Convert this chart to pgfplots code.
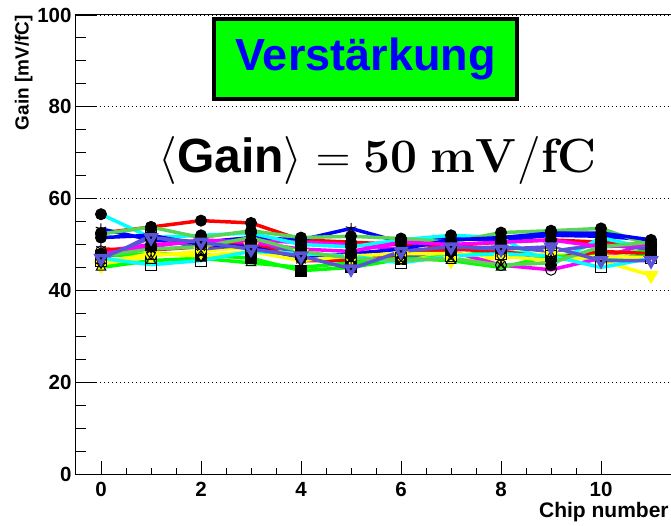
\RequirePackage{fix-cm}
\documentclass[border=0pt]{standalone}
\usepackage[no-math]{fontspec}
\setmainfont{Liberation Sans}
\usepackage{pgfplots}
\pgfplotsset{compat=1.18}
\definecolor{rgreen}{RGB}{0,255,0}
\definecolor{rblue}{RGB}{0,0,255}
\definecolor{rred}{RGB}{255,0,0}
\definecolor{ryellow}{RGB}{255,255,0}
\definecolor{rmag}{RGB}{255,0,255}
\definecolor{rcyan}{RGB}{0,255,255}
\definecolor{rlgreen}{RGB}{89,212,84}
\definecolor{rpurple}{RGB}{89,84,216}
\pgfplotsset{ser/.style 2 args={color=#1, line width=3.5pt, mark=#2, mark size=5.5pt,
  mark options={draw=black, fill=black, line width=1pt, solid}}}
\begin{document}
\begin{tikzpicture}
\begin{axis}[
  at={(0pt,0pt)}, anchor=south west,
  scale only axis, width=600pt, height=459pt,
  xmin=-0.5, xmax=11.5, ymin=0, ymax=100,
  xtick={0,2,...,10}, ytick={0,20,...,100},
  minor x tick num=3, minor y tick num=3,
  xtick pos=bottom, ytick pos=left, tick align=inside,
  xtick style={black, line width=0.9pt, /pgfplots/major tick length=13pt, /pgfplots/minor tick length=6.5pt},
  ytick style={black, line width=0.9pt, /pgfplots/major tick length=20pt, /pgfplots/minor tick length=10pt},
  axis line style={line width=1pt},
  ymajorgrids, major grid style={black, line width=0.8pt, dash pattern=on 1pt off 3pt},
  /pgf/number format/assume math mode=true,
  ticklabel style={font=\fontsize{20.5}{22}\selectfont\bfseries},
  xticklabel style={yshift=-5pt},
  yticklabel style={xshift=-1pt},
  ylabel={Gain [mV/fC]}, xlabel={Chip number},
  label style={inner sep=0pt},
  ylabel style={font=\fontsize{19}{20}\selectfont\bfseries, at={(rel axis cs:-0.072,1)}, anchor=south east},
  xlabel style={font=\fontsize{21}{22}\selectfont\bfseries, at={(rel axis cs:0.988,-0.0937)}, anchor=base east},
]
\addplot[ser={rred}{*}] coordinates {(0,52.5)(1,53.8)(2,55.2)(3,54.7)(4,51.0)(5,50.5)(6,50.0)(7,49.8)(8,50.5)(9,51.0)(10,50.5)(11,49.5)};
\addplot[ser={rgreen}{square*}] coordinates {(0,47.5)(1,48.0)(2,47.8)(3,47.0)(4,44.3)(5,45.0)(6,46.8)(7,47.5)(8,48.5)(9,47.5)(10,48.0)(11,48.5)};
\addplot[ser={rblue}{star}] coordinates {(0,53.4)(1,51.0)(2,50.5)(3,51.5)(4,51.0)(5,53.5)(6,50.5)(7,51.3)(8,51.0)(9,52.0)(10,51.8)(11,51.0)};
\addplot[ser={ryellow}{triangle*}, mark options={rotate=180}] coordinates {(0,45.5)(1,47.5)(2,48.5)(3,49.5)(4,48.0)(5,47.0)(6,47.5)(7,46.5)(8,47.0)(9,48.0)(10,46.5)(11,43.3)};
\addplot[ser={rmag}{o}] coordinates {(0,48.5)(1,50.0)(2,50.5)(3,50.8)(4,50.5)(5,50.0)(6,49.0)(7,48.5)(8,45.5)(9,44.5)(10,47.0)(11,50.5)};
\addplot[ser={rcyan}{*}] coordinates {(0,56.6)(1,51.5)(2,52.0)(3,52.5)(4,50.0)(5,49.5)(6,51.0)(7,52.0)(8,51.5)(9,45.5)(10,51.5)(11,49.0)};
\addplot[ser={rlgreen}{*}] coordinates {(0,52.3)(1,53.8)(2,51.5)(3,53.0)(4,51.5)(5,51.8)(6,51.3)(7,50.5)(8,52.6)(9,53.0)(10,53.5)(11,49.8)};
\addplot[ser={rpurple}{square}] coordinates {(0,46.5)(1,52.0)(2,49.0)(3,50.0)(4,48.5)(5,46.0)(6,47.0)(7,49.0)(8,49.5)(9,48.5)(10,50.0)(11,49.0)};
\addplot[ser={rred}{asterisk}] coordinates {(0,49.0)(1,48.8)(2,49.5)(3,50.5)(4,46.5)(5,46.5)(6,47.8)(7,49.0)(8,48.5)(9,47.0)(10,48.5)(11,48.0)};
\addplot[ser={rgreen}{triangle}] coordinates {(0,45.0)(1,46.5)(2,47.0)(3,46.0)(4,45.0)(5,46.0)(6,47.0)(7,46.5)(8,45.0)(9,47.5)(10,47.0)(11,47.5)};
\addplot[ser={rblue}{*}] coordinates {(0,51.5)(1,52.0)(2,50.0)(3,49.5)(4,47.0)(5,48.0)(6,49.0)(7,51.0)(8,51.5)(9,52.5)(10,52.5)(11,51.0)};
\addplot[ser={ryellow}{diamond}] coordinates {(0,46.0)(1,48.0)(2,47.5)(3,48.5)(4,46.5)(5,47.5)(6,48.0)(7,48.0)(8,47.5)(9,46.5)(10,47.5)(11,47.0)};
\addplot[ser={rmag}{*}] coordinates {(0,48.0)(1,49.5)(2,51.0)(3,50.5)(4,49.0)(5,48.5)(6,50.5)(7,50.0)(8,50.5)(9,51.0)(10,49.5)(11,50.0)};
\addplot[ser={rcyan}{square}] coordinates {(0,47.0)(1,45.6)(2,46.5)(3,48.5)(4,48.0)(5,47.5)(6,46.0)(7,47.5)(8,48.0)(9,47.5)(10,45.0)(11,47.0)};
\addplot[ser={rlgreen}{x}] coordinates {(0,47.5)(1,49.0)(2,49.5)(3,51.5)(4,48.5)(5,47.0)(6,46.5)(7,47.0)(8,45.5)(9,46.0)(10,49.5)(11,50.5)};
\addplot[ser={rpurple}{triangle}, mark options={rotate=180}] coordinates {(0,47.0)(1,51.5)(2,50.5)(3,49.0)(4,47.5)(5,44.7)(6,48.5)(7,49.5)(8,49.0)(9,49.5)(10,46.5)(11,46.5)};
\end{axis}
\node[draw=black, line width=4pt, fill=rgreen, minimum width=303pt, minimum height=80pt, inner sep=0pt,
  font=\fontsize{45}{50}\selectfont\bfseries, text=rblue] at (289.5pt,415pt) {Verstärkung};
\node[anchor=base, inner sep=0pt, font=\fontsize{48}{56}\selectfont] at (301.5pt,301pt)
  {$\langle\mbox{\bfseries Gain}\rangle = \mathbf{50\ mV/fC}$};
\pgfresetboundingbox
\path[use as bounding box] (-76pt,-51pt) rectangle (595pt,474pt);
\end{tikzpicture}
\end{document}
